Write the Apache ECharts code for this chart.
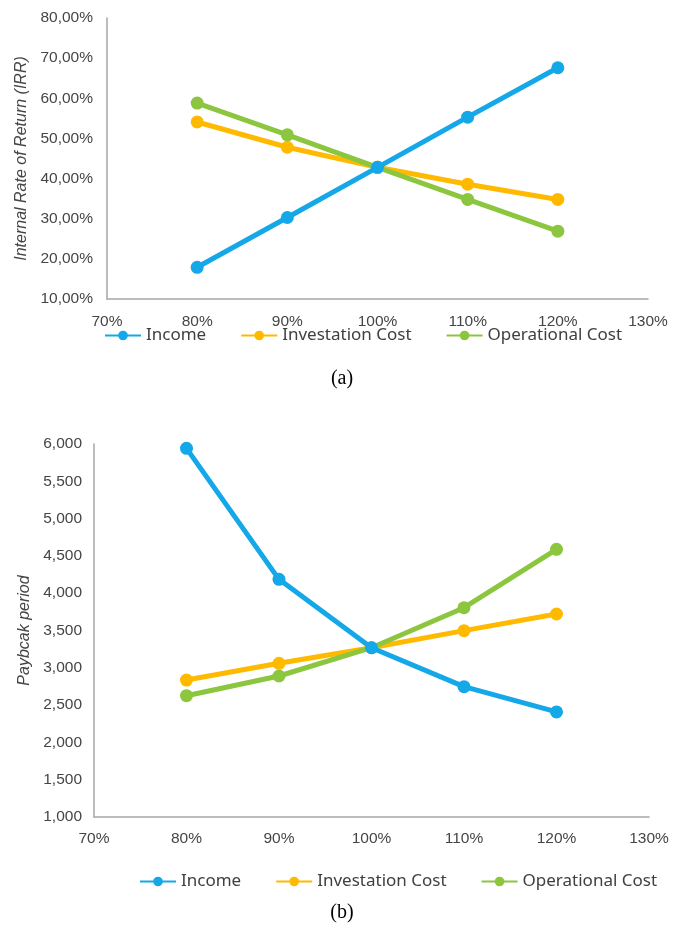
<!DOCTYPE html>
<html>
<head>
<meta charset="utf-8">
<script src="https://cdn.jsdelivr.net/npm/echarts@6/dist/echarts.min.js"></script>
<style>
html,body{margin:0;padding:0;background:#fff;}
#c{width:684px;height:936px;}
</style>
</head>
<body>
<div id="c"></div>
<script>
// ---- data ----
const levels = [80, 90, 100, 110, 120];            // % of base value
const xTicks = [70, 80, 90, 100, 110, 120, 130];   // x-axis tick labels (%)
const seriesNames = ['Income', 'Investation Cost', 'Operational Cost'];

// (a) Internal Rate of Return (%)
const irrIncome = [17.9, 30.3, 42.8, 55.3, 67.6];
const irrInvest = [54.1, 47.8, 42.8, 38.6, 34.8];
const irrOper   = [58.8, 50.9, 42.8, 34.8, 26.9];
const irrTicks  = [10, 20, 30, 40, 50, 60, 70, 80];

// (b) Payback period
const pbIncome = [5942, 4186, 3269, 2747, 2408];
const pbInvest = [2836, 3060, 3269, 3498, 3721];
const pbOper   = [2626, 2890, 3269, 3806, 4588];
const pbTicks  = [1000, 1500, 2000, 2500, 3000, 3500, 4000, 4500, 5000, 5500, 6000];

const colors = ['#14A8E8', '#FFBA00', '#8CC63F'];

function pairs(vals){ return levels.map((x,i)=>[x, vals[i]]); }

const labelFont = {color:'#454545', fontSize:15.5, fontFamily:'Liberation Sans'};
const axisLine = {show:true, lineStyle:{color:'#a6a6a6', width:1.5}};

function xAxis(gi, margin){
  return {
    type:'value', gridIndex:gi,
    min:xTicks[0], max:xTicks[xTicks.length-1], interval:10,
    axisLine:axisLine, axisTick:{show:false}, splitLine:{show:false},
    axisLabel:Object.assign({margin:margin, formatter:v=>v+'%'}, labelFont)
  };
}

const titleStyle = {color:'#454545', fontSize:16, fontStyle:'italic', fontFamily:'Liberation Sans'};

const opt = {
  animation:false,
  color:colors,
  grid:[
    {left:107, top:18, width:541, height:281},
    {left:94, top:444, width:555, height:373}
  ],
  xAxis:[xAxis(0,15), xAxis(1,14)],
  yAxis:[
    {type:'value', gridIndex:0, min:irrTicks[0], max:irrTicks[irrTicks.length-1], interval:10,
     axisLine:axisLine, axisTick:{show:false}, splitLine:{show:false},
     axisLabel:Object.assign({margin:14, formatter:v=>v.toFixed(2).replace('.',',')+'%'}, labelFont),
     name:'Internal Rate of Return (IRR)', nameLocation:'middle', nameGap:75, nameRotate:90,
     nameTextStyle:titleStyle},
    {type:'value', gridIndex:1, min:pbTicks[0], max:pbTicks[pbTicks.length-1], interval:500,
     axisLine:axisLine, axisTick:{show:false}, splitLine:{show:false},
     axisLabel:Object.assign({margin:12, formatter:v=>v.toLocaleString('en-US')}, labelFont),
     name:'Paybcak period', nameLocation:'middle', nameGap:57, nameRotate:90,
     nameTextStyle:titleStyle}
  ],
  legend:[
    {left:99, top:322, itemWidth:36, itemHeight:12, itemGap:34,
     data:seriesNames, textStyle:{color:'#404040', fontSize:17, fontFamily:'Noto Sans'}},
    {left:134, top:868, itemWidth:36, itemHeight:12, itemGap:34,
     data:seriesNames, textStyle:{color:'#404040', fontSize:17, fontFamily:'Noto Sans'}}
  ],
  graphic:[
    {type:'text', left:'center', top:369, style:{text:'(a)', font:'20px "Liberation Serif"', fill:'#000'}},
    {type:'text', left:'center', top:903, style:{text:'(b)', font:'20px "Liberation Serif"', fill:'#000'}}
  ],
  series:[
    {name:seriesNames[0], type:'line', xAxisIndex:0, yAxisIndex:0, data:pairs(irrIncome)},
    {name:seriesNames[1], type:'line', xAxisIndex:0, yAxisIndex:0, data:pairs(irrInvest)},
    {name:seriesNames[2], type:'line', xAxisIndex:0, yAxisIndex:0, data:pairs(irrOper)},
    {name:seriesNames[0], type:'line', xAxisIndex:1, yAxisIndex:1, data:pairs(pbIncome)},
    {name:seriesNames[1], type:'line', xAxisIndex:1, yAxisIndex:1, data:pairs(pbInvest)},
    {name:seriesNames[2], type:'line', xAxisIndex:1, yAxisIndex:1, data:pairs(pbOper)}
  ].map(s=>Object.assign(s,{symbol:'circle', symbolSize:13, lineStyle:{width:5}, z:s.name==='Income'?3:2}))
};

const chart = echarts.init(document.getElementById('c'), null, {renderer:'canvas'});
chart.setOption(opt);
</script>
</body>
</html>
